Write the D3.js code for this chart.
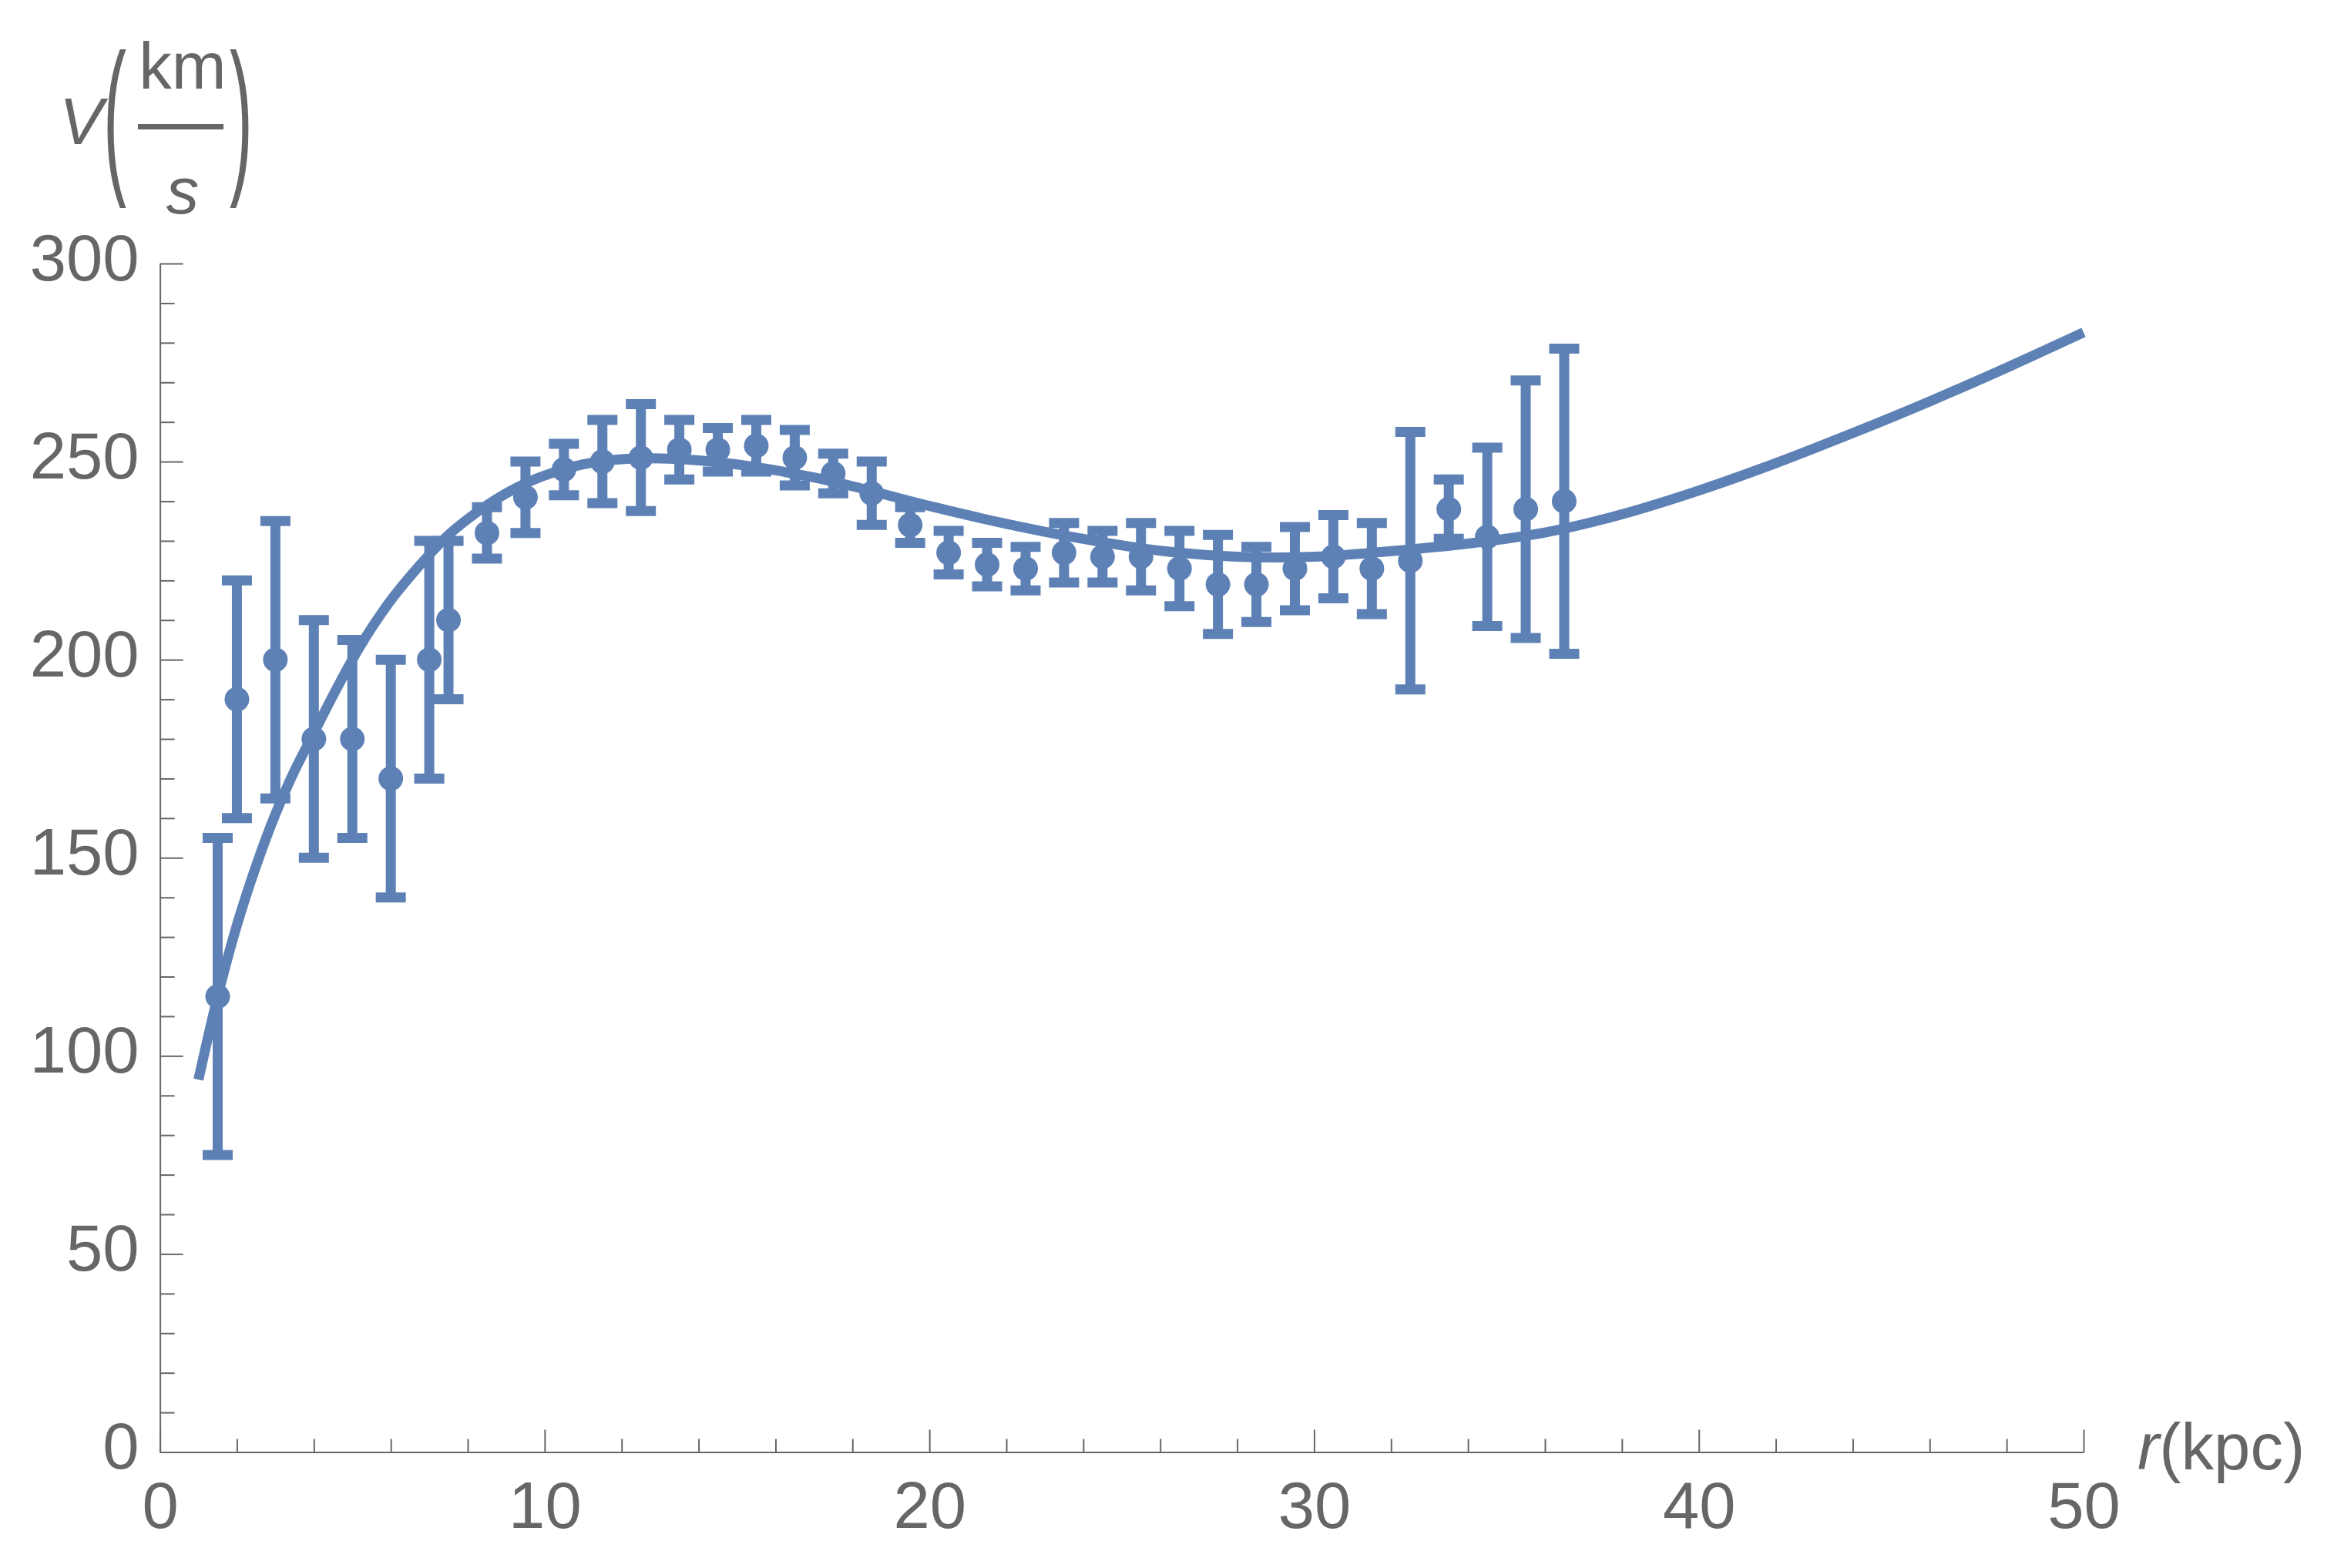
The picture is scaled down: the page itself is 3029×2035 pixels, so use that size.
<!DOCTYPE html>
<html><head><meta charset="utf-8">
<script src="https://cdn.jsdelivr.net/npm/d3@7"></script>
<style>
html,body{margin:0;padding:0;background:#fff;}
svg{display:block;}
</style></head>
<body>
<script>
// ---- data ----
const radius = [1.5, 2, 3, 4, 5, 6, 7, 7.5, 8.5, 9.5, 10.5, 11.5, 12.5, 13.5, 14.5, 15.5, 16.5, 17.5, 18.5, 19.5, 20.5, 21.5, 22.5, 23.5, 24.5, 25.5, 26.5, 27.5, 28.5, 29.5, 30.5, 31.5, 32.5, 33.5, 34.5, 35.5, 36.5];
const velocity = [115, 190, 200, 180, 180, 170, 200, 210, 232, 241, 248, 250, 251, 253, 253, 254, 251, 247, 242, 234, 227, 224, 223, 227, 226, 226, 223, 219, 219, 223, 226, 223, 225, 238, 231, 238, 240];
const errors = [40, 30, 35, 30, 25, 30, 30, 20, 6.5, 9, 6.5, 10.5, 13.5, 7.5, 5.5, 6.5, 7, 5, 8, 4.5, 5.5, 5.5, 5.5, 7.5, 6.5, 8.5, 9.5, 12.5, 9.5, 10.5, 10.5, 11.5, 32.5, 7.5, 22.5, 32.5, 38.5];

const fitR = [1, 1.5, 2, 2.5, 3, 3.5, 4, 4.5, 5, 5.5, 6, 6.5, 7, 7.5, 8, 8.5, 9, 9.5, 10, 11, 12, 13, 14, 15, 16, 17, 18, 19, 20, 22, 24, 26, 28, 30, 32, 34, 36, 38, 40, 42, 44, 46, 48, 50];
const fitV = [94, 115, 133, 148, 161, 172, 181.5, 191, 200, 208, 215, 221, 226.5, 231.5, 235.5, 239, 242, 244.5, 246.5, 249.3, 250.6, 250.8, 250.3, 249.3, 247.8, 246, 243.8, 241.3, 238.8, 234.3, 230.5, 227.5, 226, 226, 227.4, 229.3, 232.1, 236.7, 242.7, 249.6, 257.2, 265.2, 273.7, 282.6];

const xMajor = [0, 10, 20, 30, 40, 50];
const xMinor = [2, 4, 6, 8, 12, 14, 16, 18, 22, 24, 26, 28, 32, 34, 36, 38, 42, 44, 46, 48];
const yMajor = [0, 50, 100, 150, 200, 250, 300];
const yMinor = [10, 20, 30, 40, 60, 70, 80, 90, 110, 120, 130, 140, 160, 170, 180, 190, 210, 220, 230, 240, 260, 270, 280, 290];

// ---- layout ----
const W = 3029, H = 2035;
const C = "#5e81b5", G = "#666666";
const FONT = "'Liberation Sans', Arial, sans-serif";
const FS = 85;

const svg = d3.select("body").append("svg").attr("width", W).attr("height", H)
  .style("font-family", FONT);

const x = d3.scaleLinear().domain([0, 50]).range([207.6, 2704]);
const y = d3.scaleLinear().domain([0, 300]).range([1884.5, 342]);

// axes
function styleAxis(g) {
  g.selectAll("path.domain").attr("stroke", G).attr("stroke-width", 2);
  g.selectAll(".tick line").attr("stroke", G).attr("stroke-width", 2);
  g.selectAll("text").attr("fill", G).style("font-size", FS + "px").style("font-family", FONT);
}
const yMinorG = svg.append("g").attr("transform", `translate(${x(0)},0)`)
  .call(d3.axisLeft(y).tickValues(yMinor).tickSizeInner(-19).tickSizeOuter(0).tickFormat(""));
yMinorG.select("path.domain").remove();
styleAxis(yMinorG);
const yMajorG = svg.append("g").attr("transform", `translate(${x(0)},0)`)
  .call(d3.axisLeft(y).tickValues(yMajor).tickSizeInner(-30).tickSizeOuter(0).tickPadding(27).tickFormat(d3.format("d")));
styleAxis(yMajorG);
yMajorG.selectAll("text").attr("dy", "0.25em");

const xMinorG = svg.append("g").attr("transform", `translate(0,${y(0)})`)
  .call(d3.axisBottom(x).tickValues(xMinor).tickSizeInner(-17).tickSizeOuter(0).tickFormat(""));
xMinorG.select("path.domain").remove();
styleAxis(xMinorG);
const xMajorG = svg.append("g").attr("transform", `translate(0,${y(0)})`)
  .call(d3.axisBottom(x).tickValues(xMajor).tickSizeInner(-29).tickSizeOuter(0).tickPadding(38.5).tickFormat(d3.format("d")));
styleAxis(xMajorG);

// axis labels
const xl = svg.append("text").attr("x", 2774).attr("y", 1907).attr("fill", G)
  .style("font-size", FS + "px");
xl.append("tspan").style("font-style", "italic").text("r");
xl.append("tspan").text("(kpc)");

const yl = svg.append("g").attr("fill", G).style("font-size", FS + "px");
yl.append("text").attr("x", 77).attr("y", 187).style("font-style", "italic").text("V");
yl.append("text").attr("transform", "translate(134,223.5) scale(1,2.45)").style("font-size", "90px").text("(");
yl.append("text").attr("x", 237).attr("y", 115).attr("text-anchor", "middle").text("km");
yl.append("line").attr("x1", 179).attr("x2", 290).attr("y1", 164.5).attr("y2", 164.5)
  .attr("stroke", G).attr("stroke-width", 7);
yl.append("text").attr("x", 237).attr("y", 277).attr("text-anchor", "middle").style("font-style", "italic").text("s");
yl.append("text").attr("transform", "translate(298,223.5) scale(1,2.45)").style("font-size", "90px").text(")");

// data
const pts = radius.map((r, i) => ({ r, v: velocity[i], e: errors[i] }));
const gp = svg.append("g");
const eb = gp.selectAll("g.eb").data(pts).join("g").attr("class", "eb");
eb.append("line").attr("x1", d => x(d.r)).attr("x2", d => x(d.r))
  .attr("y1", d => y(d.v + d.e)).attr("y2", d => y(d.v - d.e))
  .attr("stroke", C).attr("stroke-width", 13);
eb.append("line").attr("x1", d => x(d.r) - 19.5).attr("x2", d => x(d.r) + 19.5)
  .attr("y1", d => y(d.v + d.e)).attr("y2", d => y(d.v + d.e))
  .attr("stroke", C).attr("stroke-width", 13);
eb.append("line").attr("x1", d => x(d.r) - 19.5).attr("x2", d => x(d.r) + 19.5)
  .attr("y1", d => y(d.v - d.e)).attr("y2", d => y(d.v - d.e))
  .attr("stroke", C).attr("stroke-width", 13);
eb.append("circle").attr("cx", d => x(d.r)).attr("cy", d => y(d.v)).attr("r", 16).attr("fill", C);

// fit curve
const fit = fitR.map((r, i) => [r, fitV[i]]);
svg.append("path").datum(fit)
  .attr("d", d3.line().x(d => x(d[0])).y(d => y(d[1])).curve(d3.curveCatmullRom.alpha(0.5)))
  .attr("fill", "none").attr("stroke", C).attr("stroke-width", 13).attr("stroke-linecap", "butt");
</script>
</body></html>
